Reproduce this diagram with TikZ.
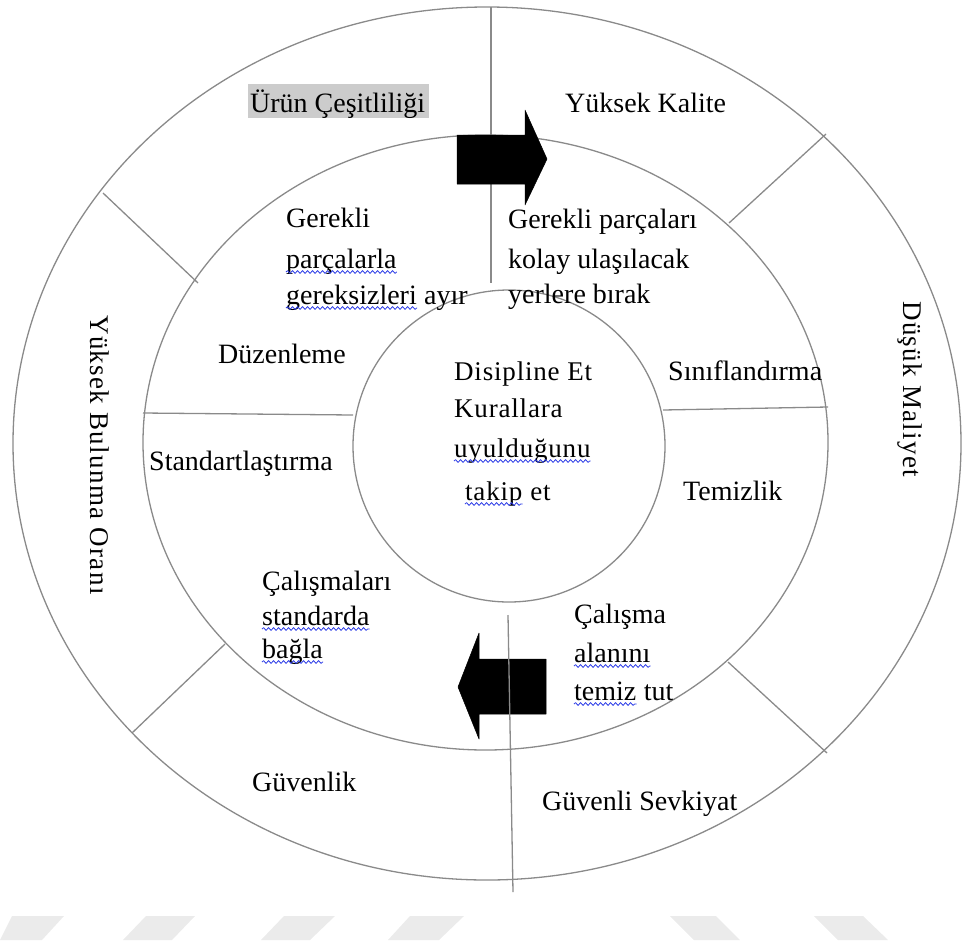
\documentclass[tikz,border=0pt]{standalone}
\usepackage{fontspec}
\setmainfont{Liberation Serif}
\usetikzlibrary{decorations.pathmorphing}
\definecolor{ringgray}{HTML}{8A8A8A}
\definecolor{wmgray}{HTML}{EBEBEB}
\definecolor{hlgray}{HTML}{CCCCCC}
\definecolor{spellblue}{HTML}{2B3BE6}
\begin{document}
\begin{tikzpicture}[x=1pt,y=-1pt,line join=round,
  ring/.style={draw=ringgray,line width=1.3pt},
  sepline/.style={draw=ringgray,line width=1.3pt},
  blockarrow/.style={fill=black,draw=black,line width=0.5pt},
  lbl/.style={anchor=base west,inner sep=0pt,font=\fontsize{28}{33}\selectfont},
  ctr/.style={anchor=base west,inner sep=0pt,font=\fontsize{27}{33}\selectfont\addfontfeature{LetterSpace=3}},
  vert/.style={anchor=base west,inner sep=0pt,rotate=-90,font=\fontsize{27}{33}\selectfont\addfontfeature{LetterSpace=5}},
  wmark/.style={fill=wmgray,draw=none},
  squiggle/.style={draw=spellblue,line width=0.8pt,decorate,decoration={snake,amplitude=1.4pt,segment length=5pt}}]
\useasboundingbox (0,0) rectangle (963,945);
% watermark shapes
\fill[wmark] (12,916) -- (64,916) -- (42,940) -- (0,940) -- cycle;
\fill[wmark] (146,916) -- (195,916) -- (172,940) -- (123,940) -- cycle;
\fill[wmark] (284,916) -- (335,916) -- (310,940) -- (261,940) -- cycle;
\fill[wmark] (410,916) -- (464,916) -- (439,940) -- (388,940) -- cycle;
\fill[wmark] (670,916) -- (716,916) -- (740,940) -- (694,940) -- cycle;
\fill[wmark] (814,916) -- (863,916) -- (888,940) -- (838,940) -- cycle;
% rings
\draw[ring] (487,443.5) ellipse [x radius=474pt, y radius=436.5pt];
\draw[ring] (485.5,442.5) ellipse [x radius=342.5pt, y radius=307.5pt];
\draw[ring] (509,446) circle [radius=156pt];
% separators
\coordinate (t1) at (491,7);   \coordinate (t2) at (491,283);
\coordinate (ul1) at (103,193); \coordinate (ul2) at (198,283);
\coordinate (ur1) at (826,134); \coordinate (ur2) at (729,223);
\coordinate (ll1) at (225,644); \coordinate (ll2) at (132,733);
\coordinate (lr1) at (728,662); \coordinate (lr2) at (827,753);
\coordinate (lh1) at (143,413); \coordinate (lh2) at (353,415);
\coordinate (rh1) at (663,410); \coordinate (rh2) at (828,407);
\coordinate (b1) at (508,615);  \coordinate (b2) at (513,892);
\draw[sepline] (t1) -- (t2);
\draw[sepline] (ul1) -- (ul2);
\draw[sepline] (ur1) -- (ur2);
\draw[sepline] (ll1) -- (ll2);
\draw[sepline] (lr1) -- (lr2);
\draw[sepline] (lh1) -- (lh2);
\draw[sepline] (rh1) -- (rh2);
% block arrows
\filldraw[blockarrow] (457,135) -- (525,135) -- (525,110) -- (547,159) -- (525,205) -- (525,184) -- (457,184) -- cycle;
\filldraw[blockarrow] (546,659) -- (479,659) -- (479,633) -- (458,687) -- (479,739) -- (479,714) -- (546,714) -- cycle;
\draw[sepline] (b1) -- (b2);
% highlight
\fill[hlgray] (248,84) rectangle (429,118);
% texts
\node[lbl] (urun) at (250,112) {Ürün Çeşitliliği};
\node[lbl] (yk) at (565,112) {Yüksek Kalite};
\node[lbl] (gl1) at (286,227) {Gerekli};
\node[lbl] (gl2) at (286,268) {parçalarla};
\node[lbl] (gl3) at (286,304) {gereksizleri};
\node[lbl] (gl3b) at (gl3.base east) {\ ayır};
\node[lbl] (gr1) at (508,228) {Gerekli parçaları};
\node[lbl] (gr2) at (508,268) {kolay ulaşılacak};
\node[lbl] (gr3) at (508,303) {yerlere bırak};
\node[lbl] (duz) at (218,363) {Düzenleme};
\node[ctr] (c1) at (454,380) {Disipline Et};
\node[ctr] (c2) at (454,417) {Kurallara};
\node[ctr] (c3) at (454,457) {uyulduğunu};
\node[ctr] (c4) at (465,500) {takip};
\node[ctr] (c4b) at (c4.base east) {\ et};
\node[lbl] (sin) at (668,380) {Sınıflandırma};
\node[lbl] (tem) at (683,500) {Temizlik};
\node[lbl] (std) at (149,470) {Standartlaştırma};
\node[lbl] (cm1) at (262,590) {Çalışmaları};
\node[lbl] (cm2) at (262,625) {standarda};
\node[lbl] (cm3) at (262,658) {bağla};
\node[lbl] (ca1) at (574,623) {Çalışma};
\node[lbl] (ca2) at (574,662) {alanını};
\node[lbl] (ca3) at (574,700) {temiz};
\node[lbl] (ca3b) at (ca3.base east) {\ tut};
\node[lbl] (guv) at (252,791) {Güvenlik};
\node[lbl] (gs) at (542,810) {Güvenli Sevkiyat};
\node[vert] (ybo) at (90,315) {Yüksek Bulunma Oranı};
\node[vert] (dm) at (903,301) {Düşük Maliyet};
% spell-check squiggles
\foreach \w in {gl2,gl3,c3,c4,cm2,cm3,ca2,ca3}{
  \draw[squiggle] ([yshift=-4pt]\w.base west) -- ([yshift=-4pt]\w.base east);
}
\end{tikzpicture}
\end{document}
